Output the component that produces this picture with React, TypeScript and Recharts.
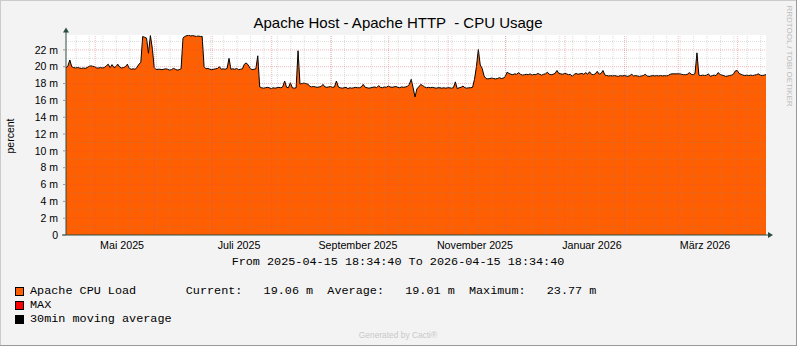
import { ComposedChart, Area, XAxis, YAxis, CartesianGrid, ReferenceLine } from "recharts";

const START = Date.UTC(2025, 3, 15, 18, 34, 40);
const END = Date.UTC(2026, 3, 15, 18, 34, 40);
const DAY = 86400000;

// daily CPU load (milli-percent)
const cpuLoad = [
    19.85, 20.1, 20.8, 20.0, 19.9, 19.85, 19.9, 19.85, 19.8, 19.85,
    19.8, 19.9, 20.05, 20.1, 20.05, 20.0, 19.85, 19.85, 19.9, 19.85,
    19.9, 20.1, 20.3, 19.9, 20.25, 19.9, 20.0, 20.3, 19.95, 19.85,
    19.9, 20.0, 20.3, 19.8, 19.7, 19.75, 19.7, 19.9, 20.3, 20.5,
    23.6, 23.5, 23.4, 21.6, 23.7, 22.2, 19.9, 19.65, 19.7, 19.7,
    19.65, 19.7, 19.75, 19.7, 19.6, 19.65, 19.8, 19.7, 19.6, 19.65,
    19.75, 23.4, 23.6, 23.7, 23.77, 23.65, 23.7, 23.65, 23.6, 23.65,
    23.6, 23.6, 20.0, 19.75, 19.8, 19.7, 19.65, 19.7, 19.75, 19.8,
    20.0, 19.7, 19.75, 19.7, 19.8, 21.0, 19.7, 19.75, 19.7, 19.8,
    19.65, 19.7, 19.75, 20.3, 20.45, 20.2, 19.8, 19.65, 19.7, 19.75,
    21.3, 17.6, 17.5, 17.45, 17.5, 17.55, 17.5, 17.4, 17.5, 17.45,
    17.5, 17.55, 17.5, 17.6, 18.3, 17.55, 17.5, 18.1, 17.5, 17.45,
    17.5, 21.9, 17.95, 18.0, 18.05, 18.0, 17.95, 17.7, 17.6, 17.65,
    17.6, 17.55, 17.6, 17.65, 17.9, 17.6, 17.55, 17.6, 17.65, 17.55,
    17.6, 18.3, 17.6, 17.5, 17.45, 17.5, 17.55, 17.4, 17.5, 17.45,
    17.5, 17.55, 17.5, 17.5, 17.6, 17.9, 17.55, 17.5, 17.45, 17.5,
    17.55, 17.6, 17.5, 17.75, 17.55, 17.5, 17.6, 17.55, 17.7, 17.6,
    17.55, 17.6, 17.65, 17.55, 17.5, 17.6, 17.55, 17.6, 17.65, 17.9,
    18.5, 17.5, 16.4, 17.4, 17.6, 17.9, 17.75, 17.6, 17.5, 17.55,
    17.5, 17.55, 17.5, 17.45, 17.5, 17.5, 17.45, 17.5, 17.45, 17.5,
    17.5, 17.45, 17.5, 18.2, 17.4, 17.5, 17.55, 17.7, 17.5, 17.45,
    17.5, 17.5, 17.55, 18.5, 20.0, 22.05, 20.2, 19.8, 18.9, 18.6,
    18.55, 18.6, 18.65, 18.6, 18.55, 18.6, 18.7, 18.6, 18.65, 18.8,
    19.35, 19.2, 19.1, 19.05, 19.15, 19.1, 19.3, 19.1, 19.0, 19.05,
    19.1, 19.05, 19.15, 19.0, 19.1, 19.05, 19.2, 19.1, 19.0, 19.1,
    19.15, 19.35, 19.1, 19.05, 19.1, 19.2, 19.55, 19.2, 19.15, 19.1,
    19.2, 19.15, 19.05, 19.1, 18.85, 19.1, 19.2, 19.1, 19.15, 19.2,
    19.1, 19.3, 19.1, 19.4, 19.1, 19.05, 19.15, 19.45, 19.1, 19.2,
    19.55, 19.0, 18.95, 18.9, 18.95, 18.9, 18.95, 18.9, 18.85, 18.95,
    18.9, 18.95, 18.9, 18.85, 18.95, 19.1, 18.9, 18.95, 18.9, 18.85,
    18.9, 18.95, 19.1, 18.9, 18.85, 18.9, 18.95, 18.9, 18.95, 18.9,
    18.95, 18.9, 18.95, 18.9, 18.95, 19.1, 19.15, 19.15, 19.15, 19.15,
    19.15, 19.1, 19.05, 19.05, 19.1, 19.3, 19.1, 19.05, 19.2, 21.65,
    19.0, 18.95, 19.0, 18.95, 19.0, 19.15, 18.85, 18.95, 19.0, 18.95,
    19.3, 19.1, 19.0, 18.95, 18.85, 18.9, 18.95, 19.0, 19.1, 19.5,
    19.55, 19.2, 19.1, 19.0, 18.95, 19.0, 18.95, 19.0, 18.95, 19.0,
    19.05, 19.15, 19.0, 18.95, 19.0, 19.06,
];

const monthLabels = ["Mai 2025", "Juli 2025", "September 2025", "November 2025", "Januar 2026", "März 2026"];
const monthLabelDates = [
    Date.UTC(2025, 4, 15), Date.UTC(2025, 6, 15), Date.UTC(2025, 8, 15),
    Date.UTC(2025, 10, 15), Date.UTC(2026, 0, 15), Date.UTC(2026, 2, 15),
];
const monthStarts = [
    Date.UTC(2025, 4, 1), Date.UTC(2025, 5, 1), Date.UTC(2025, 6, 1), Date.UTC(2025, 7, 1),
    Date.UTC(2025, 8, 1), Date.UTC(2025, 9, 1), Date.UTC(2025, 10, 1), Date.UTC(2025, 11, 1),
    Date.UTC(2026, 0, 1), Date.UTC(2026, 1, 1), Date.UTC(2026, 2, 1), Date.UTC(2026, 3, 1),
];
const firstMonday = Date.UTC(2025, 3, 21);
const weekStarts: number[] = [];
for (let t = firstMonday; t < END; t += 7 * DAY) weekStarts.push(t);

const yTicks = [0, 2, 4, 6, 8, 10, 12, 14, 16, 18, 20, 22];
const yMinor = [1, 3, 5, 7, 9, 11, 13, 15, 17, 19, 21, 23];

const legendRows = [
    { color: "#FF5F00", text: "Apache CPU Load       Current:   19.06 m  Average:   19.01 m  Maximum:   23.77 m" },
    { color: "#FF0000", text: "MAX" },
    { color: "#000000", text: "30min moving average" },
];

const data = cpuLoad.map((v, i) => ({ t: START + i * DAY, load: v }));

const SANS = "'Liberation Sans', Arial, sans-serif";
const MONO = "'Liberation Mono', monospace";
const GRID = "#8F8F8F";
const MGRID = "#DE5050";
const AXIS = "#2C4D43";

export default function App() {
    return (
        <div style={{ position: "absolute", left: 0, top: 0, width: 797, height: 346, background: "#F3F3F3" }}>
            <ComposedChart
                width={797}
                height={346}
                data={data}
                margin={{ top: 35, right: 31, left: 16, bottom: 91 }}
            >
                <CartesianGrid fill="#FFFFFF" horizontal={false} vertical={false} />
                <XAxis
                    dataKey="t"
                    type="number"
                    domain={[START, END]}
                    ticks={monthLabelDates}
                    tickFormatter={(v) => monthLabels[monthLabelDates.indexOf(v)]}
                    tickLine={false}
                    tickSize={6}
                    tickMargin={0}
                    height={20}
                    axisLine={{ stroke: AXIS }}
                    tick={{ fontSize: 10.7, fontFamily: SANS, fill: "#000" }}
                    interval={0}
                />
                <YAxis
                    type="number"
                    domain={[0, 23.77]}
                    ticks={yTicks}
                    tickFormatter={(v) => (v === 0 ? "0" : `${v} m`)}
                    width={50}
                    tickSize={3}
                    tickMargin={5}
                    tickLine={{ stroke: "#999" }}
                    axisLine={{ stroke: AXIS }}
                    tick={{ fontSize: 10.5, fontFamily: SANS, fill: "#000" }}
                    allowDataOverflow
                />
                <Area
                    type="linear"
                    dataKey="load"
                    fill="#FF5F00"
                    fillOpacity={1}
                    stroke="#000"
                    strokeWidth={1}
                    dot={false}
                    activeDot={false}
                    isAnimationActive={false}
                />
                {weekStarts.map((t) => (
                    <ReferenceLine key={"w" + t} x={t} stroke={GRID} strokeOpacity={0.3} strokeDasharray="1 1" />
                ))}
                {yMinor.map((v) => (
                    <ReferenceLine key={"h" + v} y={v} stroke={GRID} strokeOpacity={0.3} strokeDasharray="1 1" />
                ))}
                {monthStarts.map((t) => (
                    <ReferenceLine key={"m" + t} x={t} stroke={MGRID} strokeOpacity={0.4} strokeDasharray="1 1" />
                ))}
                {yTicks.slice(1).map((v) => (
                    <ReferenceLine key={"M" + v} y={v} stroke={MGRID} strokeOpacity={0.4} strokeDasharray="1 1" />
                ))}
            </ComposedChart>
            <svg
                width={797}
                height={346}
                style={{ position: "absolute", left: 0, top: 0, pointerEvents: "none" }}
            >
                <line x1={0} y1={0.5} x2={797} y2={0.5} stroke="#CBCBCB" />
                <line x1={0.5} y1={0} x2={0.5} y2={346} stroke="#CBCBCB" />
                <line x1={0} y1={345.5} x2={797} y2={345.5} stroke="#999999" />
                <line x1={796.5} y1={0} x2={796.5} y2={346} stroke="#999999" />

                <line x1={66} y1={35} x2={66} y2={31} stroke={AXIS} />
                <polygon points="63,32.5 69,32.5 66,27.5" fill={AXIS} />
                <line x1={62} y1={235} x2={66} y2={235} stroke={AXIS} />
                <line x1={766} y1={235} x2={769} y2={235} stroke={AXIS} />
                <polygon points="768,232 768,238 773,235" fill={AXIS} />

                <text x={398} y={28} textAnchor="middle" fontFamily={SANS} fontSize={15} fill="#000" style={{ whiteSpace: "pre" }}>
                    Apache Host - Apache HTTP  - CPU Usage
                </text>
                <text
                    x={14}
                    y={136}
                    textAnchor="middle"
                    fontFamily={SANS}
                    fontSize={10.5}
                    fill="#000"
                    transform="rotate(-90 14 136)"
                >
                    percent
                </text>
                <text
                    x={787}
                    y={56}
                    textAnchor="middle"
                    fontFamily={SANS}
                    fontSize={8}
                    fill="#BBBBBB"
                    transform="rotate(90 787 56)"
                >
                    RRDTOOL / TOBI OETIKER
                </text>
                <text x={398} y={265} textAnchor="middle" fontFamily={MONO} fontSize={11.8} fill="#000" style={{ whiteSpace: "pre" }}>
                    From 2025-04-15 18:34:40 To 2026-04-15 18:34:40
                </text>
                {legendRows.map((r, i) => (
                    <g key={r.text}>
                        <rect x={15.5} y={287.5 + i * 14} width={8} height={8} fill={r.color} stroke="#000" />
                        <text x={30} y={294 + i * 14} fontFamily={MONO} fontSize={11.8} fill="#000" style={{ whiteSpace: "pre" }}>
                            {r.text}
                        </text>
                    </g>
                ))}
                <text x={398} y={338} textAnchor="middle" fontFamily={SANS} fontSize={8.4} fill="#C8C8C8">
                    Generated by Cacti®
                </text>
            </svg>
        </div>
    );
}
